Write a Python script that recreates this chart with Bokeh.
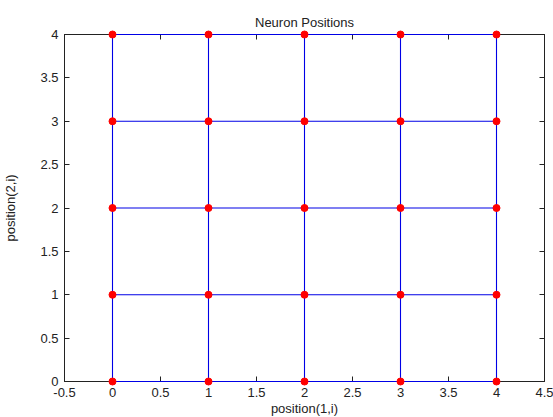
from bokeh.plotting import figure
from bokeh.models import LinearAxis, FixedTicker, Range1d
from bokeh.embed import file_html
from bokeh.resources import INLINE

# neuron positions (5x5 grid)
pos_x = [0, 1, 2, 3, 4] * 5
pos_y = [0]*5 + [1]*5 + [2]*5 + [3]*5 + [4]*5

x_ticks = [-0.5, 0, 0.5, 1, 1.5, 2, 2.5, 3, 3.5, 4, 4.5]
x_tick_labels = ["-0.5", "0", "0.5", "1", "1.5", "2", "2.5", "3", "3.5", "4", "4.5"]
y_ticks = [0, 0.5, 1, 1.5, 2, 2.5, 3, 3.5, 4]
y_tick_labels = ["0", "0.5", "1", "1.5", "2", "2.5", "3", "3.5", "4"]

# neighbour links (distance 1)
xs, ys = [], []
for i in range(len(pos_x)):
    for j in range(i + 1, len(pos_x)):
        d = abs(pos_x[i] - pos_x[j]) + abs(pos_y[i] - pos_y[j])
        if d == 1:
            xs.append([pos_x[i], pos_x[j]])
            ys.append([pos_y[i], pos_y[j]])

FONT = "Liberation Sans"
TXT = "#222222"

p = figure(frame_width=480, frame_height=347,
           x_range=Range1d(-0.5, 4.5), y_range=Range1d(0, 4),
           output_backend="svg", toolbar_location=None,
           title="Neuron Positions",
           x_axis_label="position(1,i)", y_axis_label="position(2,i)",
           min_border_left=63, min_border_right=10,
           min_border_top=34, min_border_bottom=30)
p.background_fill_color = "white"
p.border_fill_color = "white"
p.outline_line_color = TXT
p.outline_line_width = 1
p.xgrid.visible = False
p.ygrid.visible = False

p.title.align = "center"
p.title.text_font = FONT
p.title.text_font_size = "13px"
p.title.text_font_style = "normal"
p.title.text_color = TXT
p.title.standoff = 9

def style_axis(ax, ticks, labels, show_labels=True):
    ax.ticker = FixedTicker(ticks=ticks)
    ax.major_label_overrides = {t: l for t, l in zip(ticks, labels)}
    ax.major_tick_in = 5
    ax.major_tick_out = 0
    ax.minor_tick_line_color = None
    ax.axis_line_color = TXT
    ax.major_tick_line_color = TXT
    ax.major_label_text_font = FONT
    ax.major_label_text_font_size = "13px"
    ax.major_label_text_color = TXT
    ax.major_label_standoff = 6
    ax.axis_label_text_font = FONT
    ax.axis_label_text_font_size = "13px"
    ax.axis_label_text_font_style = "normal"
    ax.axis_label_text_color = TXT
    ax.axis_label_standoff = 1
    if not show_labels:
        ax.major_label_text_alpha = 0
        ax.major_label_text_font_size = "0px"

style_axis(p.xaxis[0], x_ticks, x_tick_labels)
style_axis(p.yaxis[0], y_ticks, y_tick_labels)
p.yaxis[0].axis_label_standoff = 19

top = LinearAxis()
style_axis(top, x_ticks, x_tick_labels, show_labels=False)
p.add_layout(top, "above")
right = LinearAxis()
style_axis(right, y_ticks, y_tick_labels, show_labels=False)
p.add_layout(right, "right")

p.multi_line(xs, ys, line_color="#0000e6", line_width=1.1, level="overlay")
p.scatter(pos_x, pos_y, size=7, fill_color="#ff0000", line_color="#ff0000",
          level="overlay")

open("out.html", "w").write(file_html(p, INLINE))
